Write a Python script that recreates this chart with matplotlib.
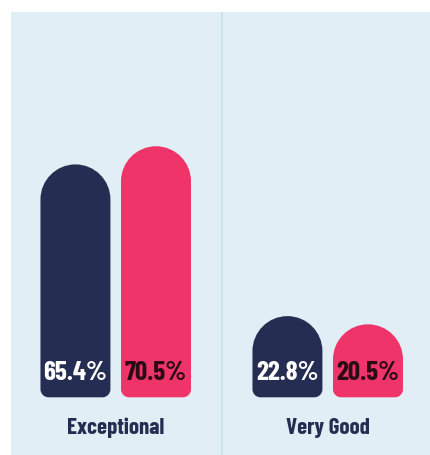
import matplotlib
matplotlib.use("Agg")
from matplotlib import pyplot as plt
from matplotlib.path import Path
from matplotlib.patches import PathPatch
from matplotlib.transforms import IdentityTransform
import numpy as np

categories = ['Exceptional', 'Very Good']
series_navy = [65.4, 22.8]
series_pink = [70.5, 20.5]
labels_navy = ['65.4%', '22.8%']
labels_pink = ['70.5%', '20.5%']

navy = '#262d52'
pink = '#ef3469'
bg = '#e2eef5'

plt.rcParams['font.family'] = ['Barlow Condensed', 'DejaVu Sans']

fig = plt.figure(figsize=(4.30, 4.56), dpi=100)
ax = fig.add_axes([11 / 430, 0, 419 / 430, 443 / 456])
ax.set_facecolor(bg)
ax.set_xlim(-0.494, 1.4825)
ax.set_ylim(-16.2, 108.2)
for s in ax.spines.values():
    s.set_visible(False)
ax.set_xticks([])
ax.set_yticks([])

ax.axvline(0.5, color='#c4e2e8', lw=1.2)

x = np.arange(len(categories))
width = 0.33
offset = 0.19

bars = []
bars += list(ax.bar(x - offset, series_navy, width, color=navy))
bars += list(ax.bar(x + offset, series_pink, width, color=pink))
fig.canvas.draw()


def rounded(rect):
    # pill top + small bottom corners, built in pixel space
    (x0, y0), (x1, y1) = ax.transData.transform(
        [(rect.get_x(), rect.get_y()),
         (rect.get_x() + rect.get_width(), rect.get_y() + rect.get_height())])
    r = (x1 - x0) / 2
    rb = 8
    k = 0.5523
    verts = [
        (x0 + rb, y0), (x1 - rb, y0),
        (x1 - rb + rb * k, y0), (x1, y0 + rb - rb * k), (x1, y0 + rb),
        (x1, y1 - r),
        (x1, y1 - r + r * k), (x1 - r + r * k, y1), (x1 - r, y1),
        (x0 + r - r * k, y1), (x0, y1 - r + r * k), (x0, y1 - r),
        (x0, y0 + rb),
        (x0, y0 + rb - rb * k), (x0 + rb - rb * k, y0), (x0 + rb, y0),
        (x0 + rb, y0),
    ]
    codes = [Path.MOVETO, Path.LINETO,
             Path.CURVE4, Path.CURVE4, Path.CURVE4,
             Path.LINETO,
             Path.CURVE4, Path.CURVE4, Path.CURVE4,
             Path.CURVE4, Path.CURVE4, Path.CURVE4,
             Path.LINETO,
             Path.CURVE4, Path.CURVE4, Path.CURVE4,
             Path.CLOSEPOLY]
    return Path(verts, codes)


for b in bars:
    p = PathPatch(rounded(b), facecolor=b.get_facecolor(), edgecolor='none',
                  transform=IdentityTransform(), clip_on=False, zorder=2)
    ax.add_artist(p)
    b.set_visible(False)

for i in range(len(categories)):
    ax.text(x[i] - offset, 7, labels_navy[i], ha='center', va='center',
            color='white', fontsize=19.5, fontweight='bold', zorder=5)
    ax.text(x[i] + offset, 7, labels_pink[i], ha='center', va='center',
            color='#2a0b16', fontsize=19.5, fontweight='bold', zorder=5)
    ax.text(x[i], -8.2, categories[i], ha='center', va='center',
            color=navy, fontsize=16.5, fontweight='bold', zorder=5)

fig.savefig('out.png', dpi=100)
